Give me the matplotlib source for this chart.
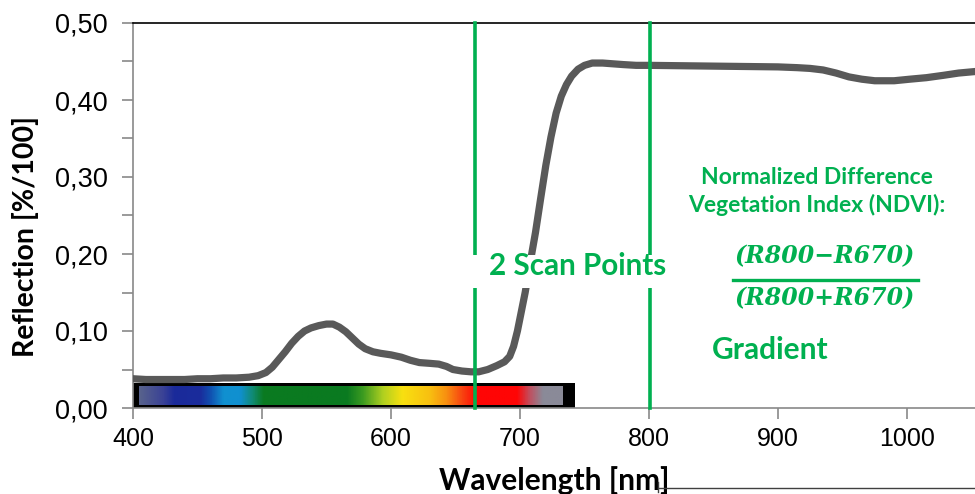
import numpy as np
import matplotlib
matplotlib.use("Agg")
import matplotlib.pyplot as plt
from matplotlib.colors import LinearSegmentedColormap
from matplotlib.patches import Rectangle
from matplotlib.lines import Line2D
from matplotlib.ticker import MultipleLocator, FuncFormatter

# reflection spectrum
wavelength = [400, 410, 420, 430, 440, 450, 460, 470, 480, 490, 497, 503, 508,
              513, 518, 523, 528, 533, 538, 544, 550, 555, 560, 565, 570, 575,
              580, 586, 592, 600, 608, 615, 622, 630, 637, 643, 648, 655, 662,
              668, 675, 682, 688, 692, 695, 698, 701, 704, 708, 712, 716, 720,
              724, 728, 732, 736, 740, 745, 750, 756, 764, 772, 780, 790, 800,
              850, 900, 915, 925, 935, 945, 955, 965, 975, 990, 1002, 1015,
              1028, 1040, 1053]
reflection = [0.038, 0.037, 0.037, 0.037, 0.037, 0.038, 0.038, 0.039, 0.039,
              0.040, 0.042, 0.046, 0.053, 0.063, 0.073, 0.084, 0.093, 0.100,
              0.104, 0.107, 0.109, 0.109, 0.105, 0.099, 0.091, 0.083, 0.077,
              0.073, 0.071, 0.069, 0.066, 0.062, 0.059, 0.058, 0.057, 0.054,
              0.050, 0.048, 0.047, 0.047, 0.050, 0.055, 0.060, 0.067, 0.080,
              0.100, 0.125, 0.150, 0.190, 0.228, 0.272, 0.315, 0.352, 0.383,
              0.405, 0.420, 0.431, 0.440, 0.445, 0.448, 0.448, 0.447, 0.446,
              0.445, 0.445, 0.444, 0.443, 0.442, 0.441, 0.439, 0.435, 0.430,
              0.427, 0.425, 0.425, 0.427, 0.429, 0.432, 0.435, 0.437]

# the two scan points (nm)
scan_nm = [665, 801]

# visible spectrum strip colours
strip_nm = [405, 423, 432, 452, 460, 470, 483, 493, 501, 566, 578, 594, 609,
            630, 643, 656, 667, 698, 708, 718, 733]
strip_col = ['#58628c', '#3a4296', '#1a2a9a', '#1a2c9c', '#1050b0', '#1090d0',
             '#1090d0', '#108a70', '#0a7a20', '#0a7a20', '#3a9a20', '#b0d020',
             '#f8e010', '#f8c010', '#f89010', '#f84010', '#ff0505', '#ff0505',
             '#c05060', '#8a8a98', '#8a8a98']

green = '#00b050'

fig = plt.figure(figsize=(9.75, 4.94), dpi=100)
ax = fig.add_axes([133 / 975, 86 / 494, 1 - 133 / 975, 385 / 494])
ax.set_xlim(400, 1052.7)
ax.set_ylim(0, 0.5)

# spectrum strip
pos = [(n - strip_nm[0]) / (strip_nm[-1] - strip_nm[0]) for n in strip_nm]
cmap = LinearSegmentedColormap.from_list('vis', list(zip(pos, strip_col)))
ax.add_patch(Rectangle((400, 0), 342.5, 0.0325, facecolor='black', edgecolor='none', zorder=2))
grad = np.linspace(0, 1, 512).reshape(1, -1)
ax.imshow(grad, cmap=cmap, aspect='auto', extent=[strip_nm[0], strip_nm[-1], 0.004, 0.0285],
          zorder=3, interpolation='bilinear')

# reflection curve
ax.plot(wavelength, reflection, color='#595959', lw=5.2, solid_capstyle='round',
        solid_joinstyle='round', zorder=4)

# scan lines
for x in scan_nm:
    ax.plot([x, x], [0, 0.5], color=green, lw=2.6, zorder=5, clip_on=False)

# white band behind the label cuts the lines and the curve
ax.add_patch(Rectangle((655, 0.156), 155, 0.043, facecolor='white', edgecolor='none', zorder=6))

tf = dict(family=['Lato', 'DejaVu Sans'], weight='bold', color=green, zorder=7)
ax.text(745, 0.185, '2 Scan Points', fontsize=21.3, ha='center', va='center', **tf)
ax.text(930, 0.281, 'Normalized Difference\nVegetation Index (NDVI):', fontsize=16.5,
        ha='center', va='center', linespacing=1.35, **tf)
ax.text(936, 0.197, '(R800\u2212R670)', fontsize=17, ha='center', va='center',
        family='DejaVu Serif', weight='bold', style='italic', color=green)
ax.plot([865, 1008.5], [0.166, 0.166], color=green, lw=2.4)
ax.text(936, 0.142, '(R800+R670)', fontsize=17, ha='center', va='center',
        family='DejaVu Serif', weight='bold', style='italic', color=green)
ax.text(894, 0.075, 'Gradient', fontsize=21.5, ha='center', va='center', **tf)

# axes styling
for s in ['left', 'bottom']:
    ax.spines[s].set_color('#898989')
    ax.spines[s].set_linewidth(1.2)
ax.spines['right'].set_visible(False)
ax.spines['top'].set_color('black')
ax.spines['top'].set_linewidth(1.2)

ax.yaxis.set_major_locator(MultipleLocator(0.05))
ax.yaxis.set_major_formatter(FuncFormatter(
    lambda v, p: ('%.2f' % v).replace('.', ',') if round(v * 100) % 10 == 0 else ''))
ax.xaxis.set_major_locator(MultipleLocator(100))
ax.tick_params(axis='both', direction='out', length=8, width=1.2, color='#898989',
               labelsize=18, pad=6)
ax.tick_params(axis='y', labelsize=19.5, pad=10)
for lab in ax.get_xticklabels() + ax.get_yticklabels():
    lab.set_family(['Liberation Sans', 'DejaVu Sans'])

ax.set_ylabel('Reflection [%/100]', fontsize=20.5, weight='bold', family=['Lato', 'DejaVu Sans'])
ax.yaxis.set_label_coords(-0.112, 0.445)
ax.set_xlabel('Wavelength [nm]', fontsize=21.5, weight='bold', family=['Lato', 'DejaVu Sans'])
ax.xaxis.set_label_coords(0.5, -0.150)

# stray line under the x label
fig.add_artist(Line2D([658 / 975, 1], [6 / 494, 6 / 494], color='#404040', lw=1))
fig.add_artist(Line2D([658 / 975, 658 / 975], [2 / 494, 12 / 494], color='#404040', lw=1))

fig.savefig('out.png', dpi=100)
